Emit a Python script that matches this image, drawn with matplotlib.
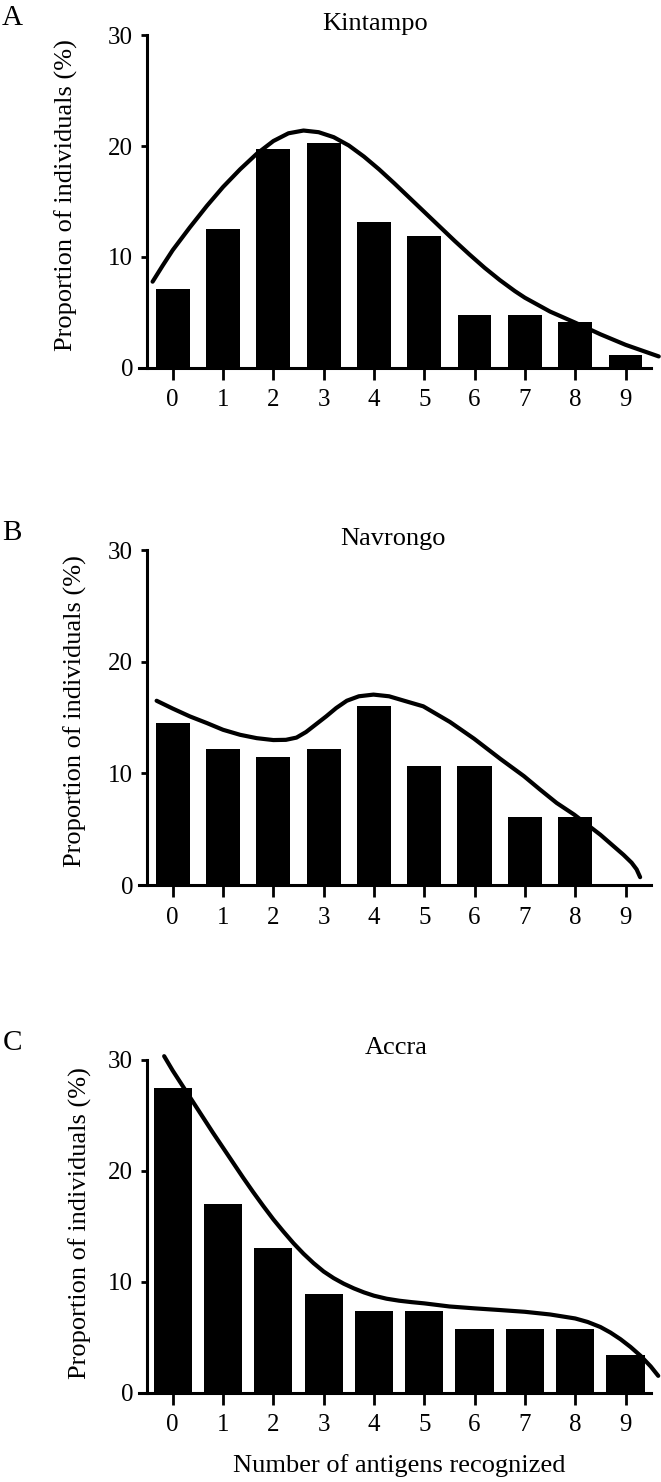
import numpy as np
import matplotlib; matplotlib.use("Agg")
import matplotlib.pyplot as plt

plt.rcParams["font.family"] = ["Liberation Serif", "DejaVu Serif"]

# ---- data ----
antigens = list(range(10))
tick_labels = [str(i) for i in antigens]

panels = ["A", "B", "C"]
sites = ["Kintampo", "Navrongo", "Accra"]

kintampo_pct = [7.1, 12.5, 19.7, 20.3, 13.1, 11.9, 4.7, 4.7, 4.1, 1.1]
navrongo_pct = [14.5, 12.2, 11.5, 12.2, 16.0, 10.7, 10.7, 6.1, 6.1, 0.0]
accra_pct = [27.4, 17.0, 13.0, 8.9, 7.3, 7.3, 5.7, 5.7, 5.7, 3.4]

# fitted curves
kintampo_fit_x = [-0.40, -0.2, 0.0, 0.34, 0.68, 1.0, 1.34, 1.67, 2.0, 2.3, 2.6, 2.9, 3.2, 3.5,
                  3.8, 4.1, 4.4, 4.7, 5.0, 5.3, 5.6, 5.9, 6.2, 6.5, 6.8, 7.0, 7.5, 8.0, 8.5,
                  9.0, 9.66]
kintampo_fit_y = [7.75, 9.2, 10.6, 12.65, 14.6, 16.3, 17.9, 19.3, 20.45, 21.15, 21.4, 21.25,
                  20.8, 20.05, 19.05, 17.9, 16.65, 15.35, 14.05, 12.75, 11.45, 10.2, 9.0, 7.9,
                  6.9, 6.3, 5.05, 4.05, 3.0, 2.05, 1.0]

navrongo_fit_x = [-0.32, 0.0, 0.34, 0.68, 1.0, 1.34, 1.67, 2.0, 2.25, 2.46, 2.65, 2.85, 3.05,
                  3.25, 3.46, 3.7, 3.99, 4.3, 4.6, 4.98, 5.51, 5.99, 6.51, 6.98, 7.3, 7.63,
                  7.98, 8.5, 8.96, 9.12, 9.22, 9.29]
navrongo_fit_y = [16.5, 15.8, 15.1, 14.5, 13.9, 13.45, 13.15, 12.98, 13.0, 13.2, 13.7, 14.4,
                  15.1, 15.85, 16.5, 16.9, 17.05, 16.9, 16.5, 16.0, 14.6, 13.1, 11.3, 9.75,
                  8.55, 7.35, 6.3, 4.5, 2.7, 2.0, 1.4, 0.7]

accra_fit_x = [-0.17, 0.0, 0.2, 0.4, 0.6, 0.8, 1.0, 1.2, 1.4, 1.6, 1.8, 2.0, 2.2, 2.4, 2.6,
               2.8, 3.0, 3.2, 3.4, 3.6, 3.8, 4.0, 4.25, 4.5, 4.75, 5.0, 5.5, 6.0, 6.5, 7.0,
               7.5, 8.0, 8.25, 8.5, 8.7, 8.9, 9.1, 9.3, 9.5, 9.65]
accra_fit_y = [30.3, 29.0, 27.6, 26.2, 24.8, 23.4, 22.05, 20.7, 19.35, 18.05, 16.8, 15.6,
               14.5, 13.45, 12.5, 11.65, 10.9, 10.3, 9.8, 9.38, 9.02, 8.72, 8.45, 8.27,
               8.14, 8.03, 7.75, 7.58, 7.43, 7.27, 7.03, 6.67, 6.35, 5.9, 5.4, 4.8, 4.1,
               3.3, 2.35, 1.5]

bars = [kintampo_pct, navrongo_pct, accra_pct]
fits = [(kintampo_fit_x, kintampo_fit_y), (navrongo_fit_x, navrongo_fit_y),
        (accra_fit_x, accra_fit_y)]

# ---- layout (pixel-based, 661x1482) ----
W, H = 661, 1482
fig = plt.figure(figsize=(W / 100, H / 100), dpi=100)

ax_left, ax_right = 139, 650.7
ax_tops = [35.3, 550, 1059.5]
ax_bottoms = [367.5, 885, 1392.5]
bar_widths = [0.67, 0.68, 0.76]
ylabel_x = [66, 75, 80]
ylabel_shift = [6, 6, 3]
title_x = [375, 393, 396]

for i in range(3):
    top, bot = ax_tops[i], ax_bottoms[i]
    ax = fig.add_axes([ax_left / W, 1 - bot / H, (ax_right - ax_left) / W, (bot - top) / H])
    ax.bar(antigens, bars[i], width=bar_widths[i], color="black", zorder=2)
    fx, fy = fits[i]
    ax.plot(fx, fy, color="black", lw=3.0, solid_capstyle="round", solid_joinstyle="round",
            clip_on=False, zorder=3)

    ax.set_xlim(-0.67, 9.5)
    ax.set_ylim(0, 30)
    ax.spines["top"].set_visible(False)
    ax.spines["right"].set_visible(False)
    ax.spines["left"].set_position(("data", -0.52))
    for s in ("left", "bottom"):
        ax.spines[s].set_linewidth(2.2)
    ax.set_xticks(antigens)
    ax.set_xticklabels(tick_labels)
    ax.set_yticks([0, 10, 20, 30])
    ax.tick_params(axis="x", length=8.5, width=2.0, pad=7, labelsize=18)
    ax.tick_params(axis="y", length=4.6, width=2.0, pad=5, labelsize=18)

    # y label
    fig.text(ylabel_x[i] / W, 1 - ((top + bot) / 2 - ylabel_shift[i]) / H,
             "Proportion of individuals (%)", rotation=90, ha="center", va="center",
             fontsize=19)
    # site title
    fig.text(title_x[i] / W, 1 - (top - 11) / H, sites[i], ha="center", va="center", fontsize=19)
    # panel letter
    fig.text(12 / W, 1 - (top - 17) / H, panels[i], ha="center", va="center", fontsize=21)

fig.text(399.6 / W, 1 - 1466 / H, "Number of antigens recognized", ha="center", va="center",
         fontsize=19)

fig.savefig("out.png", dpi=100)
